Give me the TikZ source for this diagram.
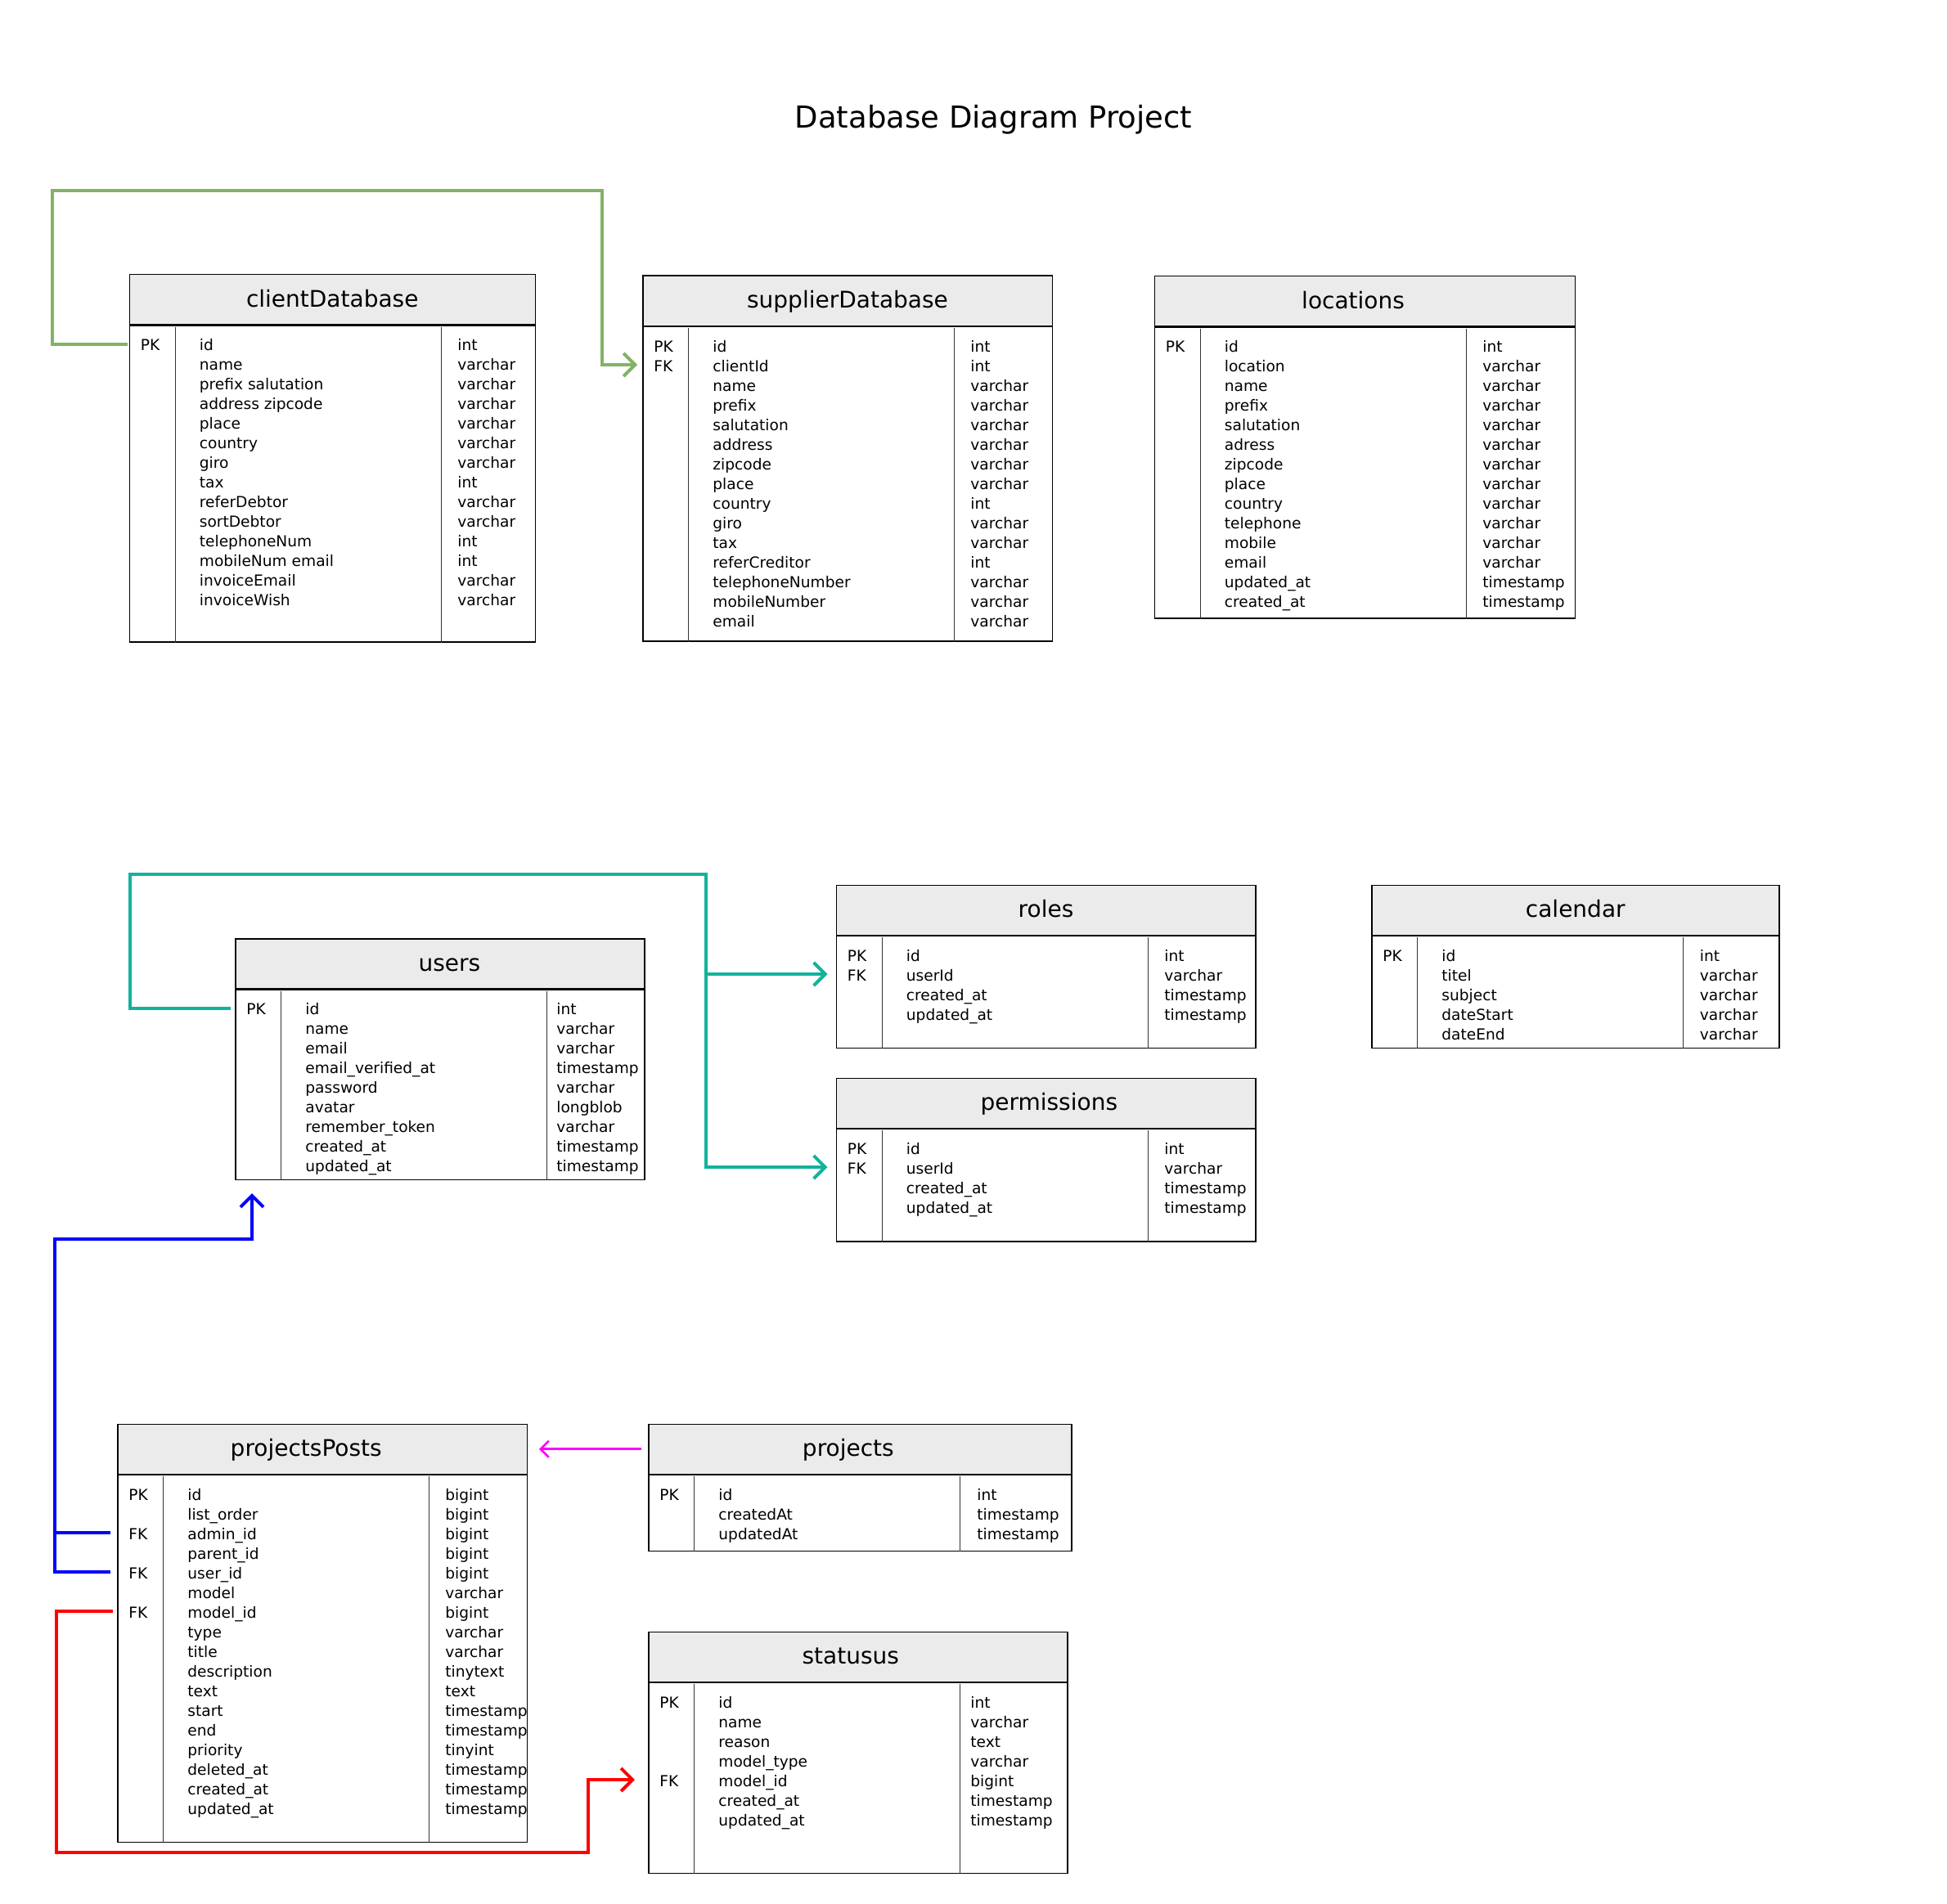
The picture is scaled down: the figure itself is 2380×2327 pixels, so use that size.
\documentclass[tikz,border=0pt]{standalone}
\usepackage{fontspec}
\setmainfont{DejaVu Sans}
\usetikzlibrary{calc}
\usetikzlibrary{arrows.meta}
\definecolor{headgray}{HTML}{EBEBEB}
\definecolor{linkgreen}{HTML}{82B366}
\definecolor{linkteal}{HTML}{12B39B}
\definecolor{linkblue}{HTML}{0000FF}
\definecolor{linkred}{HTML}{FF0000}
\definecolor{linkpink}{HTML}{FF00FF}
\tikzset{
  entity/.style   = { rectangle, draw=black, line width=0.75pt, anchor=north west, inner sep=0pt },
  heading/.style  = { entity, fill=headgray, minimum height=30.5pt },
  caption/.style  = { inner sep=0pt, text height=11pt, text depth=2pt, font=\fontsize{14}{16}\selectfont },
  field/.style    = { anchor=base west, inner sep=0pt, text height=8pt, text depth=0pt,
                      font=\fontsize{9.3}{11}\selectfont },
  divider/.style  = { draw=black!80, line width=0.5pt },
}
\tikzset{
  link/.style     = { line width=2pt },
  relation/.style = { link, ->, shorten >=3pt },
  users caption/.style         = { xshift=5.8pt },
  permissions caption/.style   = { xshift=1.9pt },
  locations caption/.style     = { xshift=-7.1pt },
  projectsPosts caption/.style = { xshift=-9.9pt },
  projects caption/.style      = { xshift=-7.2pt },
  statusus caption/.style      = { xshift=-4.5pt },
}

% #1 name, #2 corner, #3 width, #4 height, #5 type column, #6 title, #7 keys, #8 fields, #9 types
\newcommand\dbtable[9]{
  \node (#1) [entity, minimum width=#3*0.5pt, minimum height=#4*0.5pt] at #2 {};
  \node (#1-head) [heading, minimum width=#3*0.5pt] at (#1.north west) {};
  \node (#1-caption) [caption, #1 caption/.try] at (#1-head.center) {#6};
  \draw [line width=1.1pt] (#1-head.south west) -- (#1-head.south east);
  \draw [divider] ($(#1-head.south west)+(56.5,2)$) -- ($(#1.south west)+(56.5,0)$);
  \draw [divider] ($(#1-head.south west)+(381.5,2)$) -- ($(#1.south west)+(381.5,0)$);
  \foreach \keyname [count=\i] in {#7}
    \node (#1-k\i) [field] at ($(#1-head.south west)+(14,7+24*\i)$) {\keyname};
  \foreach \fieldname [count=\i] in {#8}
    \node (#1-f\i) [field] at ($(#1-head.south west)+(86,7+24*\i)$) {\fieldname};
  \foreach \typename [count=\i] in {#9}
    \node (#1-t\i) [field] at ($(#1-head.south west)+(#5,7+24*\i)$) {\typename};
}

\begin{document}
\begin{tikzpicture}[
  x=0.5pt, y=-0.5pt,
  >={Straight Barb[length=7pt,width=14pt]},
]
  \fill [white] (0,0) rectangle (2380,2327);
  \useasboundingbox (0,0) rectangle (2380,2327);

  \node (title) [font=\fontsize{18.5}{22}\selectfont, anchor=base] at (1214.5,156.7) {Database Diagram Project};

  \dbtable{client}{(157.5,335)}{496}{449}{401.5}{clientDatabase}
    {PK}
    {id,name,prefix salutation,address zipcode,place,country,giro,tax,referDebtor,sortDebtor,telephoneNum,mobileNum email,invoiceEmail,invoiceWish}
    {int,varchar,varchar,varchar,varchar,varchar,varchar,int,varchar,varchar,int,int,varchar,varchar}
  \dbtable{supplier}{(785,336.5)}{500.5}{446.5}{401}{supplierDatabase}
    {PK,FK}
    {id,clientId,name,prefix,salutation,address,zipcode,place,country,giro,tax,referCreditor,telephoneNumber,mobileNumber,email}
    {int,int,varchar,varchar,varchar,varchar,varchar,varchar,int,varchar,varchar,int,varchar,varchar,varchar}
  \dbtable{locations}{(1410.5,337)}{514}{418}{401.5}{locations}
    {PK}
    {id,location,name,prefix,salutation,adress,zipcode,place,country,telephone,mobile,email,updated\_at,created\_at}
    {int,varchar,varchar,varchar,varchar,varchar,varchar,varchar,varchar,varchar,varchar,varchar,timestamp,timestamp}

  \dbtable{roles}{(1021.5,1081.5)}{512.5}{199}{401.5}{roles}
    {PK,FK}
    {id,userId,created\_at,updated\_at}
    {int,varchar,timestamp,timestamp}
  \dbtable{calendar}{(1676,1081.5)}{498}{199}{401.5}{calendar}
    {PK}
    {id,titel,subject,dateStart,dateEnd}
    {int,varchar,varchar,varchar,varchar}
  \dbtable{permissions}{(1021.5,1317.5)}{512.5}{199.5}{401.5}{permissions}
    {PK,FK}
    {id,userId,created\_at,updated\_at}
    {int,varchar,timestamp,timestamp}
  \dbtable{users}{(287,1147)}{500}{294.5}{393}{users}
    {PK}
    {id,name,email,email\_verified\_at,password,avatar,remember\_token,created\_at,updated\_at}
    {int,varchar,varchar,timestamp,varchar,longblob,varchar,timestamp,timestamp}

  \dbtable{projectsPosts}{(143,1740.5)}{500.5}{511}{401}{projectsPosts}
    {PK,{},FK,{},FK,{},FK}
    {id,list\_order,admin\_id,parent\_id,user\_id,model,model\_id,type,title,description,text,start,end,priority,deleted\_at,created\_at,updated\_at}
    {bigint,bigint,bigint,bigint,bigint,varchar,bigint,varchar,varchar,tinytext,text,timestamp,timestamp,tinyint,timestamp,timestamp,timestamp}
  \dbtable{projects}{(792,1740.5)}{517}{155}{402}{projects}
    {PK}
    {id,createdAt,updatedAt}
    {int,timestamp,timestamp}
  \dbtable{statusus}{(792,1994.5)}{512}{295}{394}{statusus}
    {PK,{},{},{},FK}
    {id,name,reason,model\_type,model\_id,created\_at,updated\_at}
    {int,varchar,text,varchar,bigint,timestamp,timestamp}

  % client -> supplier
  \draw [relation, draw=linkgreen, shorten <=1pt] (client-k1 -| client.west) -| (63.5,233) -- (736,233)
    |- (supplier-k2 -| supplier.west);

  % users -> roles, permissions
  \coordinate (teal-bend) at (862.5,1069);
  \draw [relation, draw=linkteal, shorten <=2.5pt, shorten >=5pt] (users-k1 -| users.west) -| (158.5,1069)
    -- (teal-bend) |- (permissions-k2 -| permissions.west);
  \draw [relation, draw=linkteal, shorten >=5pt] (teal-bend) |- (roles-k2 -| roles.west);

  % projectsPosts -> users
  \coordinate (blue-bend) at (67,1515);
  \draw [relation, draw=linkblue, shorten <=4pt, shorten >=8pt] (projectsPosts-k5 -| projectsPosts.west)
    -| (blue-bend) -| ($(users.south west)+(21,0)$);
  \draw [link, draw=linkblue, shorten <=4pt] (projectsPosts-k3 -| projectsPosts.west) -- (projectsPosts-k3 -| blue-bend);

  % projectsPosts -> statusus
  \coordinate (red-bend) at (719,2265);
  \draw [relation, draw=linkred, shorten <=2.5pt, shorten >=8pt] (projectsPosts-k7 -| projectsPosts.west)
    -| (69,2265) -- (red-bend) |- (statusus-k5 -| statusus.west);

  % projects -> projectsPosts
  \draw [relation, draw=linkpink, line width=1.3pt, shorten <=4pt, shorten >=7pt,
         -{Straight Barb[length=5pt,width=10pt]}] (projects-head.west) -- (projectsPosts-head.east);
\end{tikzpicture}
\end{document}
